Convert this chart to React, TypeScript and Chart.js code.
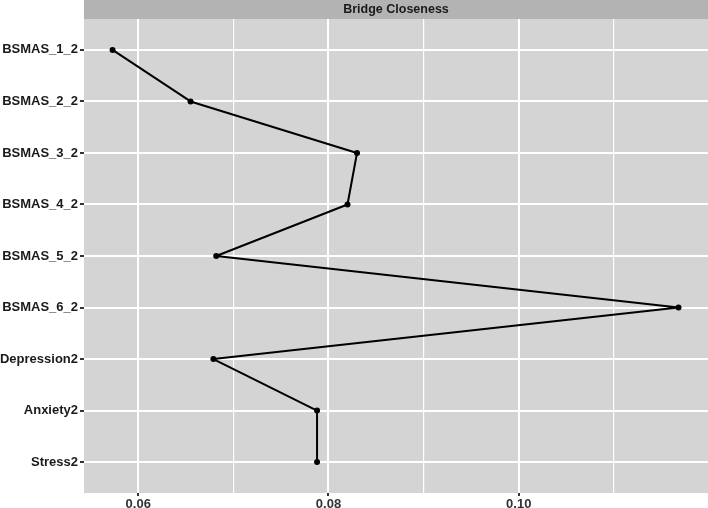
import React, { useEffect, useRef } from 'react';
import { Chart, registerables } from 'chart.js';

Chart.register(...registerables);

const categories = [
  'BSMAS_1_2',
  'BSMAS_2_2',
  'BSMAS_3_2',
  'BSMAS_4_2',
  'BSMAS_5_2',
  'BSMAS_6_2',
  'Depression2',
  'Anxiety2',
  'Stress2',
];
const closeness = [0.0573, 0.0655, 0.083, 0.082, 0.0682, 0.1168, 0.0679, 0.0788, 0.0788];
const majorTicks = [0.06, 0.08, 0.1];
const majorTickLabels = ['0.06', '0.08', '0.10'];
const minorTicks = [0.07, 0.09, 0.11];
const stripTitle = 'Bridge Closeness';

const FONT = '"Liberation Sans", Arial, sans-serif';

const isMajor = (v: number) => majorTicks.some((m) => Math.abs(m - v) < 1e-9);

const stripPlugin = {
  id: 'ggStrip',
  beforeDraw(chart: any) {
    const { ctx, chartArea } = chart;
    ctx.save();
    ctx.fillStyle = '#d4d4d4';
    ctx.fillRect(chartArea.left, chartArea.top, chartArea.right - chartArea.left, chartArea.bottom - chartArea.top);
    ctx.fillStyle = '#b3b3b3';
    ctx.fillRect(chartArea.left, 0, chartArea.right - chartArea.left, chartArea.top);
    ctx.fillStyle = '#1a1a1a';
    ctx.font = `bold 12.5px ${FONT}`;
    ctx.textAlign = 'center';
    ctx.textBaseline = 'middle';
    ctx.fillText(stripTitle, (chartArea.left + chartArea.right) / 2, chartArea.top / 2 + 0.5);
    ctx.restore();
  },
};

export default function App() {
  const ref = useRef<HTMLCanvasElement | null>(null);

  useEffect(() => {
    if (!ref.current) return;
    const chart = new Chart(ref.current, {
      type: 'line',
      data: {
        datasets: [
          {
            data: closeness.map((v, i) => ({ x: v, y: i })),
            borderColor: '#000',
            backgroundColor: '#000',
            borderWidth: 2,
            borderJoinStyle: 'round',
            borderCapStyle: 'round',
            pointRadius: 3,
            pointBackgroundColor: '#000',
            pointBorderColor: '#000',
            pointBorderWidth: 0,
            tension: 0,
            fill: false,
          },
        ],
      },
      options: {
        animation: false,
        responsive: true,
        maintainAspectRatio: false,
        parsing: false,
        layout: { autoPadding: false, padding: { top: 19, left: 0, right: 0, bottom: 0 } },
        plugins: {
          legend: { display: false },
          tooltip: { enabled: false },
          title: { display: false },
        },
        scales: {
          x: {
            type: 'linear',
            min: 0.0543,
            max: 0.1199,
            afterBuildTicks: (scale: any) => {
              scale.ticks = [...majorTicks, ...minorTicks]
                .sort((a, b) => a - b)
                .map((v) => ({ value: v }));
            },
            afterFit: (scale: any) => {
              scale.height = 15;
              scale.paddingLeft = 0;
              scale.paddingRight = 0;
            },
            border: { display: false },
            grid: {
              color: '#ffffff',
              lineWidth: (ctx: any) => (ctx.tick && isMajor(ctx.tick.value) ? 2 : 1.2),
              tickColor: (ctx: any) => (ctx.tick && isMajor(ctx.tick.value) ? '#333333' : 'rgba(0,0,0,0)'),
              tickLength: 3,
              drawTicks: true,
            },
            ticks: {
              autoSkip: false,
              maxRotation: 0,
              padding: 1,
              color: '#333333',
              font: { family: FONT, size: 13, weight: 'bold' },
              callback: (v: any) => {
                const idx = majorTicks.findIndex((m) => Math.abs(m - Number(v)) < 1e-9);
                return idx >= 0 ? majorTickLabels[idx] : '';
              },
            },
          },
          y: {
            type: 'linear',
            reverse: true,
            min: -0.6,
            max: categories.length - 1 + 0.6,
            afterBuildTicks: (scale: any) => {
              scale.ticks = categories.map((_, i) => ({ value: i }));
            },
            afterFit: (scale: any) => {
              scale.width = 84;
              scale.paddingTop = 0;
              scale.paddingBottom = 0;
            },
            border: { display: false },
            grid: {
              color: '#ffffff',
              lineWidth: 2,
              tickColor: '#333333',
              tickLength: 4,
              drawTicks: true,
            },
            ticks: {
              autoSkip: false,
              padding: 2,
              color: '#1a1a1a',
              font: { family: FONT, size: 13, weight: 'bold' },
              callback: (v: any) => categories[Math.round(Number(v))] ?? '',
            },
          },
        },
      },
      plugins: [stripPlugin],
    } as any);
    return () => chart.destroy();
  }, []);

  return (
    <div style={{ position: 'fixed', left: 0, top: 0, width: 708, height: 508, background: '#fff' }}>
      <canvas ref={ref} />
    </div>
  );
}
